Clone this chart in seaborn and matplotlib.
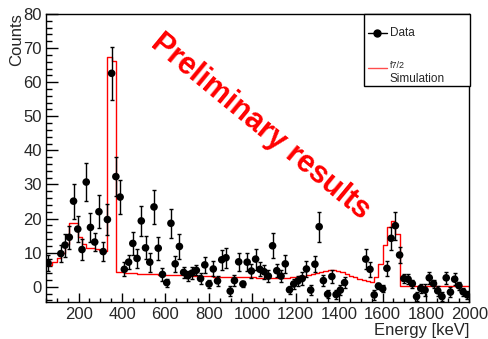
import numpy as np
import pandas as pd
import matplotlib
matplotlib.use("Agg")
import matplotlib.pyplot as plt
import seaborn as sns
from matplotlib.patches import Rectangle
from matplotlib.lines import Line2D
from matplotlib.ticker import MultipleLocator

# histogram binning in keV
e_min, e_max, n_bins = 50, 2000, 100

# background subtracted data, one value per bin (nan = empty bin, not drawn)
counts = [6.9, np.nan, np.nan, 9.7, 12.2, 14.5, 25.1, 16.9, 10.9, 30.7,
          17.4, 13.1, 22.0, 10.3, 19.7, 62.6, 32.3, 26.3, 5.1, 7.2,
          12.7, 8.3, 19.3, 11.4, 7.2, 23.4, 11.3, 3.6, 1.2, 18.6,
          6.7, 11.8, 4.2, 3.2, 4.0, 4.8, 2.4, 6.4, 0.8, 5.2,
          1.7, 7.9, 8.5, -1.3, 1.8, 7.3, 0.8, 7.2, 4.6, 8.1,
          5.1, 4.4, 3.1, 12.0, 4.7, 3.1, 6.7, -0.9, 0.8, 1.7,
          2.4, 5.2, -1.0, 6.6, 17.6, 1.8, -2.2, 3.0, -2.3, -1.0,
          1.2, np.nan, np.nan, np.nan, np.nan, 8.1, 5.1, -2.4, 0.2, -0.6,
          5.4, 14.2, 17.9, 9.3, 2.4, 2.2, 0.9, -2.9, -0.5, -1.0,
          2.6, 0.9, -1.2, -2.9, 2.6, -1.6, 2.2, 0.3, -1.5, -2.4]
errors = [2.3, np.nan, np.nan, 2.6, 3.4, 3.3, 5.1, 3.9, 3.1, 5.6,
          4.3, 2.7, 4.9, 2.7, 4.5, 7.8, 5.8, 5.1, 2.0, 2.1,
          3.4, 2.9, 4.4, 3.4, 2.8, 4.9, 3.4, 2.0, 1.2, 4.3,
          2.3, 3.6, 1.7, 1.5, 1.7, 1.5, 1.5, 2.4, 1.2, 2.2,
          1.5, 2.9, 2.9, 1.4, 1.5, 2.6, 1.0, 2.6, 2.0, 3.1,
          2.0, 2.0, 1.8, 3.7, 2.0, 1.8, 2.6, 1.2, 1.4, 1.5,
          1.8, 2.4, 1.5, 2.4, 4.4, 1.7, 1.2, 1.8, 1.2, 1.4,
          1.5, np.nan, np.nan, np.nan, np.nan, 2.9, 2.2, 1.5, 1.0, 1.0,
          2.2, 3.4, 4.1, 2.4, 1.4, 1.4, 1.2, 1.4, 1.4, 1.7,
          1.7, 1.2, 1.4, 1.2, 1.7, 1.4, 1.7, 1.2, 1.2, 1.2]

# f7/2 simulation, binned half a bin off from the data
sim = [6.4, 6.4, 7.3, 8.3, 10.0, 12.5, 18.8, 18.8, 14.5, 12.5,
       11.5, 11.3, 11.0, 10.8, 10.6, 67.4, 66.2, 4.3, 4.2, 4.1,
       4.0, 3.9, 3.8, 3.8, 3.7, 3.6, 3.6, 3.5, 3.5, 3.4,
       3.4, 3.3, 3.3, 3.2, 3.2, 3.1, 3.1, 3.0, 3.0, 3.0,
       2.9, 2.9, 2.9, 2.8, 2.8, 2.8, 2.7, 2.7, 2.7, 2.7,
       2.6, 2.6, 2.6, 2.6, 2.5, 2.5, 2.5, 2.6, 2.7, 2.8,
       3.0, 3.2, 3.5, 3.8, 4.1, 4.4, 4.7, 4.9, 5.0, 4.7,
       4.2, 3.7, 3.2, 2.8, 2.4, 2.0, 1.7, 1.5, 2.9, 6.8,
       12.2, 17.4, 19.4, 15.6, 0.3, 0.3, 0.3, 0.3, 0.3, 0.3,
       0.3, 0.3, 0.3, 0.3, 0.3, 0.3, 0.3, 0.3, 0.3, 0.3, 0.3]

edges = np.linspace(e_min, e_max, n_bins + 1)
centers = 0.5 * (edges[1:] + edges[:-1])
df = pd.DataFrame({"energy": centers, "counts": counts, "err": errors}).dropna()

sim_edges = np.concatenate([[e_min], centers, [e_max]])
sim_df = pd.DataFrame({"energy": 0.5 * (sim_edges[1:] + sim_edges[:-1]), "value": sim})

sns.set_theme(style="white")
plt.rcParams["font.family"] = ["Liberation Sans", "DejaVu Sans"]

W, H = 489, 339
fig = plt.figure(figsize=(W / 100, H / 100), dpi=100)
ax = fig.add_axes([46 / W, 1 - 301.7 / H, 423.5 / W, 287.7 / H])

sns.histplot(data=sim_df, x="energy", weights="value", bins=list(sim_edges),
             element="step", fill=False, color="red", linewidth=1, ax=ax)
ax.errorbar(df["energy"], df["counts"], yerr=df["err"], fmt="none",
            ecolor="black", elinewidth=1, capsize=1.5, capthick=1, zorder=3)
sns.scatterplot(data=df, x="energy", y="counts", color="black", s=30,
                edgecolor="none", ax=ax, zorder=4)

ax.set_xlim(e_min, e_max)
ax.set_ylim(-4.4, 80)
ax.xaxis.set_major_locator(MultipleLocator(200))
ax.xaxis.set_minor_locator(MultipleLocator(50))
ax.yaxis.set_major_locator(MultipleLocator(10))
ax.yaxis.set_minor_locator(MultipleLocator(2))
ax.tick_params(axis="x", which="major", direction="in", length=6.2, width=1,
               labelsize=12, pad=4, bottom=True, top=False, color="black")
ax.tick_params(axis="x", which="minor", direction="in", length=3.1, width=1,
               bottom=True, top=False, color="black")
ax.tick_params(axis="y", which="major", direction="in", length=8.6, width=1,
               labelsize=12, pad=3, left=True, right=False, color="black")
ax.tick_params(axis="y", which="minor", direction="in", length=4.3, width=1,
               left=True, right=False, color="black")
for s in ax.spines.values():
    s.set_color("black")
    s.set_linewidth(1)
ax.set_xlabel("")
ax.set_ylabel("")

fig.text(469.5 / W, 1 - 331 / H, "Energy [keV]", ha="right", va="center", fontsize=12)
fig.text(17 / W, 1 - 13 / H, "Counts", ha="center", va="top", rotation=90, fontsize=12)

# legend box
fig.add_artist(Rectangle((363.7 / W, 1 - 86 / H), (470 - 363.7) / W, (86 - 14) / H,
                         transform=fig.transFigure, facecolor="white",
                         edgecolor="black", linewidth=1, zorder=5))
fig.add_artist(Line2D([368.3 / W, 386.7 / W], [1 - 32.7 / H, 1 - 32.7 / H],
                      color="black", linewidth=1, zorder=6))
fig.add_artist(Line2D([377.3 / W], [1 - 32.7 / H], marker="o", markersize=5,
                      color="black", linestyle="none", zorder=6))
fig.text(390 / W, 1 - 32.7 / H, "Data", fontsize=8.5, va="center", zorder=6)
fig.add_artist(Line2D([368.3 / W, 386.7 / W], [1 - 68.3 / H, 1 - 68.3 / H],
                      color="red", linewidth=1, alpha=0.7, zorder=6))
fig.text(390 / W, 1 - 65 / H, "f7/2", fontsize=6.5, va="center", zorder=6)
fig.text(390 / W, 1 - 79 / H, "Simulation", fontsize=8.5, va="center", zorder=6)

fig.text(260 / W, 1 - 127 / H, "Preliminary results", color="red", fontsize=22,
         fontweight="bold", rotation=-39.5, ha="center", va="center",
         rotation_mode="anchor")

fig.savefig("out.png", dpi=100)
